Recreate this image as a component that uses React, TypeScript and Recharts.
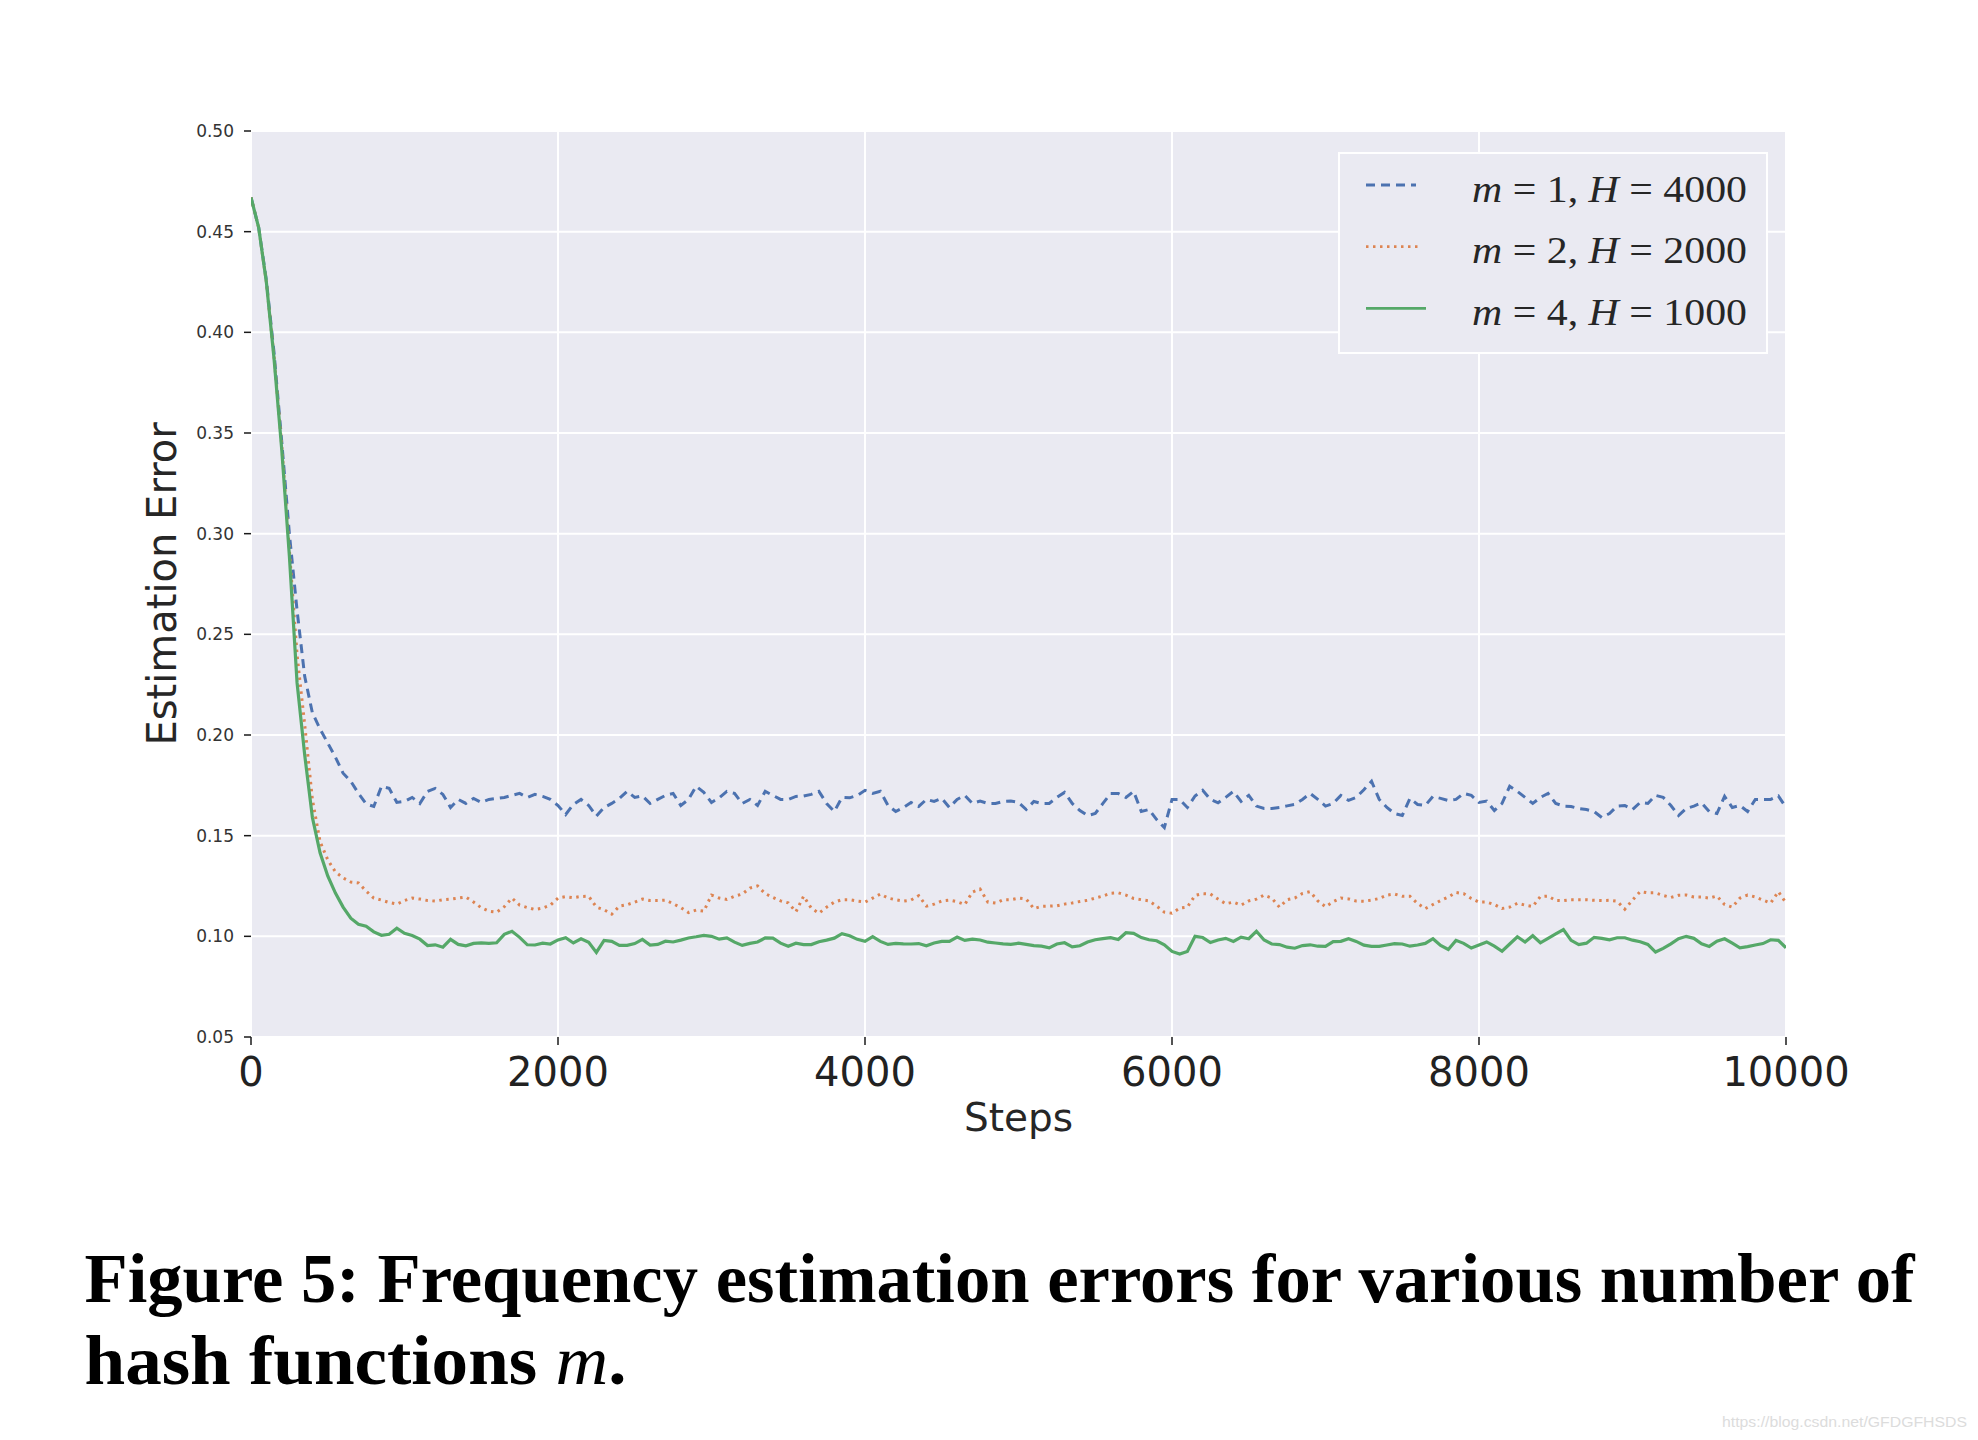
import React from 'react';
import { LineChart, Line, XAxis, YAxis, CartesianGrid, Legend } from 'recharts';

const STEPS = [
  0, 50, 100, 150, 200, 250, 300, 350, 400, 450,
  500, 550, 600, 650, 700, 750, 800, 850, 900, 950,
  1000, 1050, 1100, 1150, 1200, 1250, 1300, 1350, 1400, 1450,
  1500, 1550, 1600, 1650, 1700, 1750, 1800, 1850, 1900, 1950,
  2000, 2050, 2100, 2150, 2200, 2250, 2300, 2350, 2400, 2450,
  2500, 2550, 2600, 2650, 2700, 2750, 2800, 2850, 2900, 2950,
  3000, 3050, 3100, 3150, 3200, 3250, 3300, 3350, 3400, 3450,
  3500, 3550, 3600, 3650, 3700, 3750, 3800, 3850, 3900, 3950,
  4000, 4050, 4100, 4150, 4200, 4250, 4300, 4350, 4400, 4450,
  4500, 4550, 4600, 4650, 4700, 4750, 4800, 4850, 4900, 4950,
  5000, 5050, 5100, 5150, 5200, 5250, 5300, 5350, 5400, 5450,
  5500, 5550, 5600, 5650, 5700, 5750, 5800, 5850, 5900, 5950,
  6000, 6050, 6100, 6150, 6200, 6250, 6300, 6350, 6400, 6450,
  6500, 6550, 6600, 6650, 6700, 6750, 6800, 6850, 6900, 6950,
  7000, 7050, 7100, 7150, 7200, 7250, 7300, 7350, 7400, 7450,
  7500, 7550, 7600, 7650, 7700, 7750, 7800, 7850, 7900, 7950,
  8000, 8050, 8100, 8150, 8200, 8250, 8300, 8350, 8400, 8450,
  8500, 8550, 8600, 8650, 8700, 8750, 8800, 8850, 8900, 8950,
  9000, 9050, 9100, 9150, 9200, 9250, 9300, 9350, 9400, 9450,
  9500, 9550, 9600, 9650, 9700, 9750, 9800, 9850, 9900, 9950,
  10000,
];

// m = 1, H = 4000 (blue, dashed)
const M1_H4000 = [
  0.467, 0.452, 0.426, 0.39, 0.346, 0.3, 0.262, 0.229, 0.211, 0.203,
  0.196, 0.189, 0.181, 0.177, 0.171, 0.1658, 0.1645, 0.1745, 0.1735, 0.1665,
  0.167, 0.169, 0.166, 0.172, 0.1735, 0.1705, 0.164, 0.168, 0.166, 0.1685,
  0.1665, 0.168, 0.1685, 0.169, 0.17, 0.171, 0.169, 0.1705, 0.1695, 0.168,
  0.165, 0.1605, 0.1655, 0.168, 0.165, 0.1597, 0.164, 0.166, 0.1685, 0.172,
  0.169, 0.1697, 0.166, 0.168, 0.17, 0.171, 0.165, 0.168, 0.1745, 0.1715,
  0.1665, 0.1688, 0.172, 0.171, 0.166, 0.168, 0.165, 0.172, 0.17, 0.168,
  0.168, 0.1695, 0.1697, 0.1705, 0.172, 0.166, 0.162, 0.169, 0.1688, 0.17,
  0.1725, 0.171, 0.172, 0.165, 0.162, 0.164, 0.1665, 0.1645, 0.168, 0.167,
  0.1685, 0.164, 0.168, 0.17, 0.166, 0.1672, 0.166, 0.166, 0.167, 0.1672,
  0.1665, 0.163, 0.167, 0.166, 0.166, 0.169, 0.1715, 0.166, 0.1625, 0.16,
  0.161, 0.166, 0.171, 0.171, 0.169, 0.172, 0.162, 0.163, 0.158, 0.154,
  0.168, 0.168, 0.164, 0.1697, 0.1725, 0.168, 0.1663, 0.169, 0.172, 0.167,
  0.17, 0.1647, 0.1635, 0.1635, 0.164, 0.1648, 0.1655, 0.168, 0.171, 0.168,
  0.1647, 0.166, 0.17, 0.1675, 0.169, 0.1728, 0.177, 0.168, 0.164, 0.161,
  0.16, 0.1685, 0.1655, 0.165, 0.1695, 0.1685, 0.1675, 0.168, 0.171, 0.17,
  0.1665, 0.1672, 0.1625, 0.166, 0.1745, 0.172, 0.169, 0.166, 0.169, 0.171,
  0.166, 0.1647, 0.1645, 0.1635, 0.163, 0.162, 0.159, 0.161, 0.1647, 0.165,
  0.163, 0.1665, 0.166, 0.17, 0.169, 0.165, 0.16, 0.1635, 0.1647, 0.1663,
  0.162, 0.161, 0.1695, 0.164, 0.165, 0.162, 0.168, 0.168, 0.168, 0.1697,
  0.164,
];

// m = 2, H = 2000 (orange, dotted)
const M2_H2000 = [
  0.467, 0.452, 0.425, 0.388, 0.344, 0.292, 0.24, 0.205, 0.168, 0.147,
  0.138, 0.132, 0.129, 0.127, 0.1265, 0.1225, 0.119, 0.118, 0.1168, 0.116,
  0.1178, 0.119, 0.1185, 0.1178, 0.1175, 0.1182, 0.1185, 0.119, 0.1195, 0.117,
  0.1142, 0.1125, 0.112, 0.1147, 0.119, 0.1155, 0.1143, 0.1133, 0.114, 0.1155,
  0.119, 0.1197, 0.1192, 0.1198, 0.1199, 0.1145, 0.1132, 0.111, 0.115, 0.1157,
  0.117, 0.1185, 0.1178, 0.1178, 0.118, 0.1162, 0.1143, 0.1118, 0.113, 0.1125,
  0.1205, 0.119, 0.1183, 0.1199, 0.121, 0.124, 0.125, 0.1212, 0.1193, 0.1176,
  0.1166, 0.1122, 0.1199, 0.114, 0.1115, 0.1145, 0.117, 0.1182, 0.1182, 0.1175,
  0.117, 0.119, 0.121, 0.119, 0.1182, 0.1175, 0.118, 0.1202, 0.115, 0.116,
  0.1176, 0.118, 0.1172, 0.1158, 0.122, 0.1235, 0.117, 0.1165, 0.1182, 0.1182,
  0.119, 0.1185, 0.1138, 0.1149, 0.115, 0.1152, 0.116, 0.1166, 0.1173, 0.1179,
  0.119, 0.12, 0.1214, 0.1216, 0.1205, 0.1188, 0.1182, 0.1176, 0.115, 0.112,
  0.1115, 0.114, 0.1145, 0.1203, 0.1212, 0.121, 0.1185, 0.1162, 0.117, 0.1155,
  0.1176, 0.1185, 0.1205, 0.119, 0.1145, 0.1182, 0.119, 0.1213, 0.1222, 0.1176,
  0.1147, 0.1172, 0.119, 0.1186, 0.1175, 0.1174, 0.118, 0.1188, 0.1205, 0.121,
  0.1199, 0.1199, 0.1163, 0.1138, 0.1158, 0.1178, 0.1195, 0.1218, 0.1212, 0.1188,
  0.117, 0.117, 0.1158, 0.1138, 0.1145, 0.1164, 0.1155, 0.1148, 0.1198, 0.12,
  0.1178, 0.1177, 0.1182, 0.1182, 0.1182, 0.1179, 0.1178, 0.1179, 0.1174, 0.1135,
  0.118, 0.1222, 0.1216, 0.1216, 0.1203, 0.1193, 0.1204, 0.1205, 0.1195, 0.1195,
  0.119, 0.12, 0.1158, 0.1145, 0.119, 0.1205, 0.1196, 0.118, 0.1165, 0.1222,
  0.1166,
];

// m = 4, H = 1000 (green, solid)
const M4_H1000 = [
  0.467, 0.452, 0.425, 0.387, 0.342, 0.289, 0.226, 0.19, 0.159, 0.1415,
  0.13, 0.1215, 0.1145, 0.109, 0.106, 0.105, 0.1022, 0.1005, 0.101, 0.104,
  0.1015, 0.1004, 0.0986, 0.0954, 0.0958, 0.0946, 0.0985, 0.096, 0.0953, 0.0965,
  0.0967, 0.0965, 0.0968, 0.101, 0.1025, 0.0995, 0.0958, 0.0957, 0.0966, 0.0962,
  0.0982, 0.0993, 0.0967, 0.0988, 0.097, 0.092, 0.098, 0.0975, 0.0955, 0.0955,
  0.0964, 0.0985, 0.0957, 0.096, 0.0976, 0.0972, 0.0981, 0.0992, 0.0998, 0.1005,
  0.1, 0.0986, 0.0992, 0.0971, 0.0955, 0.0965, 0.0972, 0.0992, 0.0991, 0.0966,
  0.0951, 0.0966, 0.0959, 0.0959, 0.0973, 0.0981, 0.0991, 0.1013, 0.1003, 0.0985,
  0.0975, 0.0998, 0.0975, 0.096, 0.0965, 0.0963, 0.0962, 0.0964, 0.0953, 0.0967,
  0.0975, 0.0975, 0.0996, 0.098, 0.0986, 0.0982, 0.0971, 0.0967, 0.0963, 0.096,
  0.0966, 0.096, 0.0954, 0.0951, 0.0943, 0.0962, 0.0968, 0.0948, 0.0953, 0.0972,
  0.0983, 0.0989, 0.0993, 0.0984, 0.1018, 0.1015, 0.0994, 0.0983, 0.0978, 0.0958,
  0.0925, 0.0912, 0.0925, 0.1, 0.0994, 0.0969, 0.0982, 0.099, 0.0975, 0.0996,
  0.0988, 0.1025, 0.0982, 0.0962, 0.0959, 0.0946, 0.0941, 0.0954, 0.0958, 0.0951,
  0.095, 0.0974, 0.0975, 0.0988, 0.0975, 0.0956, 0.095, 0.095, 0.0957, 0.0964,
  0.0962, 0.0951, 0.0957, 0.0965, 0.0988, 0.0955, 0.0935, 0.098, 0.0965, 0.0942,
  0.0957, 0.0972, 0.0951, 0.0926, 0.0962, 0.0998, 0.0972, 0.1003, 0.0968, 0.099,
  0.1012, 0.1033, 0.098, 0.0959, 0.0966, 0.0995, 0.099, 0.0983, 0.0993, 0.0993,
  0.0981, 0.0973, 0.096, 0.0922, 0.094, 0.0963, 0.0988, 0.1, 0.099, 0.0963,
  0.095, 0.0976, 0.0988, 0.0966, 0.0943, 0.0949, 0.0957, 0.0964, 0.0983, 0.098,
  0.0943,
];

const X_TICKS = [0, 2000, 4000, 6000, 8000, 10000];
const Y_TICKS = [0.05, 0.1, 0.15, 0.2, 0.25, 0.3, 0.35, 0.4, 0.45, 0.5];

const SERIES = [
  { key: 'm1', m: '1', h: '4000', color: '#4C72B0', dash: '9 6', width: 3, sample: 50 },
  { key: 'm2', m: '2', h: '2000', color: '#DD8452', dash: '2.5 4.5', width: 3, sample: 52 },
  { key: 'm4', m: '4', h: '1000', color: '#55A868', dash: undefined as string | undefined, width: 3.2, sample: 60 },
];

const CAPTION_1 = 'Figure 5: Frequency estimation errors for various number of';
const CAPTION_2 = 'hash functions ';
const WATERMARK = 'https://blog.csdn.net/GFDGFHSDS';

const data = STEPS.map((s, i) => ({ step: s, m1: M1_H4000[i], m2: M2_H2000[i], m4: M4_H1000[i] }));

const TICK_LINE = { stroke: '#1a1a1a', strokeWidth: 1.5 };

const LegendBox = () => (
  <svg width={430} height={202} style={{ display: 'block' }}>
    <rect x={1} y={1} width={428} height={200} fill="#EAEAF2" stroke="#ffffff" strokeWidth={2} />
    {SERIES.map((s, i) => {
      const cy = 33 + i * 61.7;
      return (
        <g key={s.key}>
          <line x1={28} x2={28 + s.sample} y1={cy} y2={cy} stroke={s.color} strokeWidth={2.8} strokeDasharray={s.dash} />
          <text
            x={134}
            y={cy + 16.5}
            fontFamily="'Liberation Serif', 'DejaVu Serif', serif"
            fontSize={38}
            fill="#262626"
            textLength={275}
            lengthAdjust="spacingAndGlyphs"
          >
            <tspan fontStyle="italic">m</tspan>{' = ' + s.m + ', '}<tspan fontStyle="italic">H</tspan>{' = ' + s.h}
          </text>
        </g>
      );
    })}
  </svg>
);

const YLabel = (props: any) => {
  const vb = props.viewBox || { x: 0, y: 0, width: 0, height: 0 };
  const cx = vb.x - 9.5;
  const cy = vb.y + vb.height / 2;
  return (
    <text
      x={cx}
      y={cy}
      transform={`rotate(-90 ${cx} ${cy})`}
      textAnchor="middle"
      dominantBaseline="central"
      fontFamily="'DejaVu Sans', sans-serif"
      fontSize={40}
      fill="#262626"
    >
      Estimation Error
    </text>
  );
};

const XLabel = (props: any) => {
  const vb = props.viewBox || { x: 0, y: 0, width: 0, height: 0 };
  return (
    <text
      x={vb.x + vb.width / 2}
      y={vb.y + 94}
      textAnchor="middle"
      fontFamily="'DejaVu Sans', sans-serif"
      fontSize={39}
      fill="#262626"
    >
      Steps
    </text>
  );
};

export default function App() {
  return (
    <div style={{ position: 'absolute', left: 0, top: 0, width: 1978, height: 1440, background: '#ffffff', overflow: 'hidden' }}>
      <div style={{ position: 'absolute', left: 0, top: 0 }}>
        <LineChart width={1978} height={1200} data={data} margin={{ top: 121, right: 172, bottom: 83, left: 171 }}>
          <CartesianGrid fill="#EAEAF2" stroke="#ffffff" strokeWidth={2} />
          <XAxis
            dataKey="step"
            type="number"
            domain={[0, 10000]}
            ticks={X_TICKS}
            interval={0}
            allowDataOverflow
            height={80}
            tickSize={8}
            tickMargin={13}
            axisLine={false}
            tickLine={TICK_LINE}
            tick={{ fontSize: 40, fill: '#222222', fontFamily: "'DejaVu Sans', sans-serif" }}
            label={<XLabel />}
          />
          <XAxis
            xAxisId="top"
            orientation="top"
            dataKey="step"
            type="number"
            domain={[0, 10000]}
            ticks={X_TICKS}
            interval={0}
            allowDataOverflow
            height={10}
            tickSize={7}
            axisLine={false}
            tickLine={TICK_LINE}
            tick={false}
          />
          <YAxis
            type="number"
            domain={[0.05, 0.5]}
            ticks={Y_TICKS}
            interval={0}
            allowDataOverflow
            width={80}
            tickSize={7}
            tickMargin={10}
            axisLine={false}
            tickLine={TICK_LINE}
            tickFormatter={(v: number) => v.toFixed(2)}
            tick={{ fontSize: 17, fill: '#333333', fontFamily: "'DejaVu Sans', sans-serif" }}
            label={<YLabel />}
          />
          <YAxis
            yAxisId="right"
            orientation="right"
            type="number"
            domain={[0.05, 0.5]}
            ticks={Y_TICKS}
            interval={0}
            allowDataOverflow
            width={20}
            tickSize={7}
            axisLine={false}
            tickLine={TICK_LINE}
            tick={false}
          />
          <Legend
            layout="vertical"
            align="center"
            verticalAlign="middle"
            content={<LegendBox />}
            wrapperStyle={{ position: 'absolute', left: 1338, top: 152, width: 430, height: 202 }}
          />
          {SERIES.map((s) => (
            <Line
              key={s.key}
              dataKey={s.key}
              type="linear"
              stroke={s.color}
              strokeWidth={s.width}
              strokeDasharray={s.dash}
              dot={false}
              activeDot={false}
              isAnimationActive={false}
            />
          ))}
        </LineChart>
      </div>
      <svg width={1978} height={1440} style={{ position: 'absolute', left: 0, top: 0, pointerEvents: 'none' }}>
        <text
          x={84.5}
          y={1302}
          fontFamily="'Liberation Serif', 'DejaVu Serif', serif"
          fontWeight="bold"
          fontSize={70}
          fill="#000000"
          textLength={1830}
          lengthAdjust="spacingAndGlyphs"
        >
          {CAPTION_1}
        </text>
        <text
          x={84.5}
          y={1384}
          fontFamily="'Liberation Serif', 'DejaVu Serif', serif"
          fontWeight="bold"
          fontSize={70}
          fill="#000000"
          textLength={542}
          lengthAdjust="spacingAndGlyphs"
        >
          {CAPTION_2}
          <tspan fontStyle="italic" fontWeight="normal">m</tspan>.
        </text>
        <text
          x={1722}
          y={1427}
          fontFamily="'Liberation Sans', Arial, sans-serif"
          fontSize={15}
          fill="#dcdcdc"
          textLength={245}
          lengthAdjust="spacingAndGlyphs"
        >
          {WATERMARK}
        </text>
      </svg>
    </div>
  );
}
